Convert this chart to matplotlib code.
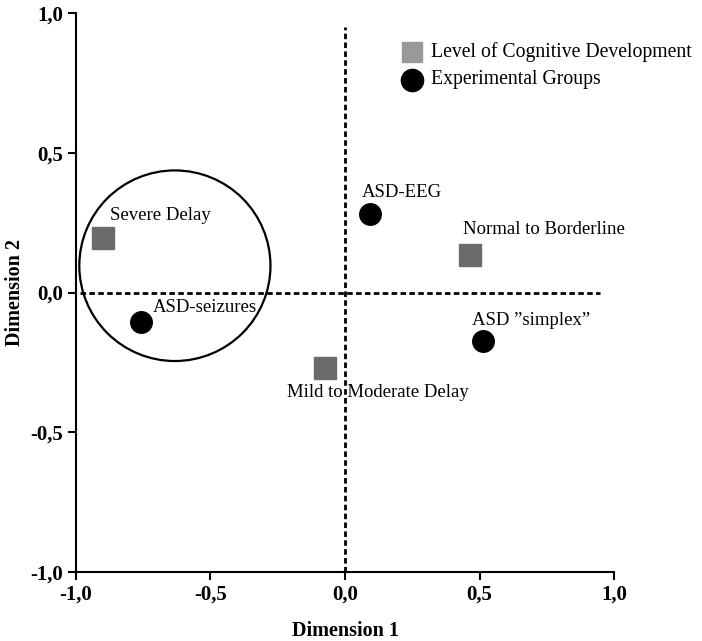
import numpy as np
import matplotlib.pyplot as plt
from matplotlib.patches import Ellipse

plt.rcParams["font.family"] = ["Liberation Serif", "DejaVu Serif"]

# cognitive development levels (squares)
level_names = ["Severe Delay", "Mild to Moderate Delay", "Normal to Borderline"]
level_x = [-0.90, -0.074, 0.465]
level_y = [0.196, -0.271, 0.136]

# experimental groups (circles)
group_names = ["ASD-seizures", "ASD-EEG", "ASD \u201dsimplex\u201d"]
group_x = [-0.758, 0.093, 0.513]
group_y = [-0.107, 0.282, -0.175]

ticks = [-1.0, -0.5, 0.0, 0.5, 1.0]
tick_labels = ["-1,0", "-0,5", "0,0", "0,5", "1,0"]

fig = plt.figure(figsize=(7.02, 6.41), dpi=100)
ax = fig.add_axes([0.108, 0.1076, 0.767, 0.872])

ax.set_xlim(-1, 1)
ax.set_ylim(-1, 1)

# reference lines
ax.plot([-0.985, 0.948], [0, 0], color="black", linestyle=(0, (2.0, 1.2)), linewidth=2.0, zorder=1)
ax.plot([0, 0], [-1, 0.95], color="black", linestyle=(0, (2.0, 1.2)), linewidth=2.0, zorder=1)

# cluster circle
ax.add_patch(Ellipse((-0.632, 0.096), 0.71, 0.682, fill=False,
                     edgecolor="black", linewidth=1.6, zorder=2))

ax.plot(level_x, level_y, "s", color="#6b6b6b", markersize=15.5, zorder=3)
ax.plot(group_x, group_y, "o", color="black", markersize=15.5, zorder=3)

label_pos = {
    "Severe Delay": (-0.874, 0.275),
    "Mild to Moderate Delay": (-0.216, -0.357),
    "Normal to Borderline": (0.439, 0.225),
    "ASD-seizures": (-0.714, -0.054),
    "ASD-EEG": (0.063, 0.357),
    "ASD \u201dsimplex\u201d": (0.472, -0.10),
}
for name in level_names + group_names:
    tx, ty = label_pos[name]
    ax.text(tx, ty, name, fontsize=13.5, ha="left", va="center", zorder=4)

# legend drawn by hand
ax.plot([0.25], [0.862], "s", color="#999999", markersize=15, clip_on=False)
ax.plot([0.25], [0.762], "o", color="black", markersize=16, clip_on=False)
ax.text(0.32, 0.862, "Level of Cognitive Development", fontsize=14.2, va="center")
ax.text(0.32, 0.762, "Experimental Groups", fontsize=14.2, va="center")

ax.set_xticks(ticks)
ax.set_xticklabels(tick_labels, fontsize=15, fontweight="bold")
ax.set_yticks(ticks)
ax.set_yticklabels(tick_labels, fontsize=15, fontweight="bold")
ax.tick_params(direction="out", length=6, width=1.5, pad=3)

for side in ["top", "right"]:
    ax.spines[side].set_visible(False)
for side in ["left", "bottom"]:
    ax.spines[side].set_linewidth(1.5)

ax.set_xlabel("Dimension 1", fontsize=14.5, fontweight="bold", labelpad=12)
ax.set_ylabel("Dimension 2", fontsize=14.5, fontweight="bold", labelpad=4)

plt.savefig("out.png", dpi=100)
